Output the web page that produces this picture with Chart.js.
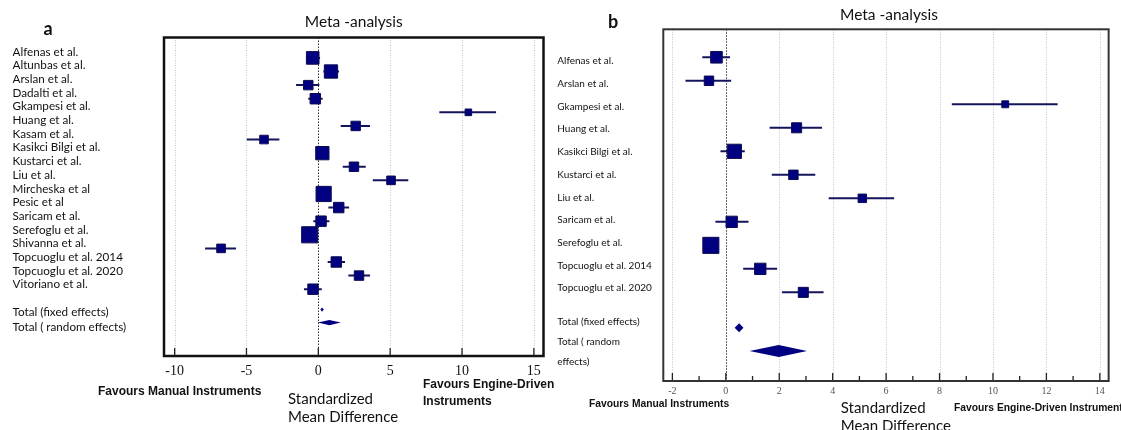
<!DOCTYPE html>
<html>
<head>
<meta charset="utf-8">
<script src="https://cdn.jsdelivr.net/npm/chart.js@4.4.1/dist/chart.umd.min.js"></script>
<style>
  html, body { margin: 0; padding: 0; background: #fff; }
  #wrap { position: relative; width: 1121px; height: 430px; overflow: hidden; background: #fff; }
  #chartA { position: absolute; left: 0; top: 0; }
  #chartB { position: absolute; left: 550px; top: 0; }
</style>
</head>
<body>
<div id="wrap">
  <canvas id="chartA" width="600" height="430"></canvas>
  <canvas id="chartB" width="571" height="430"></canvas>
</div>
<script>
// Panel a - all studies
const studiesA = ['Alfenas et al.', 'Altunbas et al.', 'Arslan et al.', 'Dadalti et al.', 'Gkampesi et al.',
    'Huang et al.', 'Kasam et al.', 'Kasikci Bilgi et al.', 'Kustarci et al.', 'Liu et al.', 'Mircheska et al',
    'Pesic et al', 'Saricam et al.', 'Serefoglu et al.', 'Shivanna et al.', 'Topcuoglu et al. 2014',
    'Topcuoglu et al. 2020', 'Vitoriano et al.'];
const smdA = [-0.39, 0.88, -0.70, -0.21, 10.44, 2.60, -3.78, 0.28, 2.48, 5.06, 0.37, 1.42, 0.19, -0.60, -6.77, 1.25, 2.83, -0.37];
const lowA = [-0.86, 0.35, -1.55, -0.70, 8.42, 1.56, -4.98, -0.05, 1.70, 3.79, 0.05, 0.70, -0.35, -0.90, -7.88, 0.65, 2.09, -1.00];
const highA = [0.12, 1.44, 0.07, 0.30, 12.37, 3.60, -2.71, 0.60, 3.30, 6.26, 0.70, 2.14, 0.77, -0.30, -5.73, 1.86, 3.60, 0.24];
const weightA = [7.3, 8.1, 4.1, 5.0, 2.0, 4.1, 3.4, 8.1, 4.1, 3.4, 10.6, 5.0, 5.0, 12.0, 3.4, 5.0, 4.1, 5.0];
const totalLabelsA = ['Total (fixed effects)', 'Total ( random effects)'];
const totalSmdA = [0.26, 0.77];
const totalLowA = [0.14, -0.04];
const totalHighA = [0.38, 1.56];
const ticksA = [-10, -5, 0, 5, 10, 15];

// Panel b - subgroup
const studiesB = ['Alfenas et al.', 'Arslan et al.', 'Gkampesi et al.', 'Huang et al.', 'Kasikci Bilgi et al.',
    'Kustarci et al.', 'Liu et al.', 'Saricam et al.', 'Serefoglu et al.', 'Topcuoglu et al. 2014', 'Topcuoglu et al. 2020'];
const smdB = [-0.35, -0.63, 10.46, 2.65, 0.32, 2.53, 5.11, 0.22, -0.56, 1.29, 2.90];
const lowB = [-0.88, -1.51, 8.46, 1.64, -0.20, 1.72, 3.85, -0.39, -0.85, 0.65, 2.10];
const highB = [0.16, 0.20, 12.42, 3.60, 0.71, 3.35, 6.30, 0.85, -0.27, 1.92, 3.66];
const weightB = [10.0, 6.6, 3.5, 7.5, 14.9, 6.6, 5.3, 9.5, 19.1, 9.5, 7.5];
const totalLabelsB = ['Total (fixed effects)', ['Total ( random', 'effects)']];
const totalSmdB = [0.50, 1.98];
const totalLowB = [0.33, 0.89];
const totalHighB = [0.66, 3.04];
const ticksB = [-2, 0, 2, 4, 6, 8, 10, 12, 14];
const minorTicksB = [-1, 1, 3, 5, 7, 9, 11, 13];

const NAVY = '#000080';
const LINE_NAVY = '#14145e';

function buildPanel(canvasId, d, look) {
    const labelRows = d.studies.map((s, i) => i).concat(look.totalLabelRows);
    const labels = d.studies.concat(d.totalLabels);
    const H = 430;
    const W = look.canvasWidth;
    const area = look.area;

    // squares first so they sit on top of the CI lines
    const datasets = [{
        label: 'smd',
        data: d.smd.map((v, i) => ({ x: v, y: i })),
        yAxisID: 'ym',
        pointStyle: 'rect',
        pointRadius: d.weight.map(w => look.squareScale * Math.sqrt(w)),
        backgroundColor: NAVY,
        borderColor: '#0c0c50',
        borderWidth: 1
    }];
    d.smd.forEach((v, i) => {
        datasets.push({
            label: 'ci' + i,
            data: [{ x: d.low[i], y: i }, { x: d.high[i], y: i }],
            yAxisID: 'ym',
            showLine: true,
            borderColor: LINE_NAVY,
            borderWidth: look.ciWidth,
            pointRadius: 0
        });
    });

    const decor = {
        id: 'forestDecor',
        beforeDatasetsDraw(chart) {
            const ctx = chart.ctx;
            const x = chart.scales.x;
            const ca = chart.chartArea;
            ctx.save();
            ctx.lineWidth = 1;
            d.ticks.forEach(t => {
                const px = Math.round(x.getPixelForValue(t)) + 0.5;
                ctx.strokeStyle = t === 0 ? '#333' : '#c4c4c4';
                ctx.setLineDash(t === 0 ? [1.5, 1.5] : [1, 1.5]);
                ctx.beginPath();
                ctx.moveTo(px, ca.top);
                ctx.lineTo(px, ca.bottom);
                ctx.stroke();
            });
            ctx.restore();
        },
        afterDatasetsDraw(chart) {
            const ctx = chart.ctx;
            const x = chart.scales.x;
            const ym = chart.scales.ym;
            const ca = chart.chartArea;
            ctx.save();
            // pooled estimates as diamonds
            ctx.fillStyle = NAVY;
            d.totalSmd.forEach((v, i) => {
                const yc = ym.getPixelForValue(look.totalMarkRows[i]);
                const h = look.diamondHalf[i];
                ctx.beginPath();
                ctx.moveTo(x.getPixelForValue(d.totalLow[i]), yc);
                ctx.lineTo(x.getPixelForValue(v), yc - h);
                ctx.lineTo(x.getPixelForValue(d.totalHigh[i]), yc);
                ctx.lineTo(x.getPixelForValue(v), yc + h);
                ctx.closePath();
                ctx.fill();
            });
            // inward tick marks
            ctx.strokeStyle = '#222';
            ctx.lineWidth = 1.3;
            d.ticks.forEach(t => {
                const px = x.getPixelForValue(t);
                ctx.beginPath();
                ctx.moveTo(px, ca.bottom);
                ctx.lineTo(px, ca.bottom - 8);
                ctx.stroke();
            });
            (d.minorTicks || []).forEach(t => {
                const px = x.getPixelForValue(t);
                ctx.beginPath();
                ctx.moveTo(px, ca.bottom);
                ctx.lineTo(px, ca.bottom - 5);
                ctx.stroke();
            });
            // frame
            ctx.strokeStyle = look.frameColor;
            ctx.lineWidth = look.frameWidth;
            ctx.strokeRect(ca.left, ca.top, ca.right - ca.left, ca.bottom - ca.top);
            // texts
            ctx.fillStyle = '#111';
            ctx.textBaseline = 'middle';
            ctx.textAlign = 'center';
            ctx.font = 'bold 18px Lato';
            ctx.fillText(look.letter, look.letterPos[0], look.letterPos[1]);
            ctx.font = '15.5px Lato';
            ctx.fillText('Meta -analysis', (ca.left + ca.right) / 2 + look.titleShift, look.titleY);
            ctx.textAlign = 'left';
            ctx.font = '15px Lato';
            ctx.fillText('Standardized', look.smdPos[0], look.smdPos[1]);
            ctx.fillText('Mean Difference', look.smdPos[0], look.smdPos[1] + 18.5);
            ctx.font = 'bold ' + look.favFont + 'px "Liberation Sans"';
            ctx.fillText('Favours Manual Instruments', look.favManual[0], look.favManual[1]);
            look.favEngine.lines.forEach((t, i) => {
                ctx.fillText(t, look.favEngine.x, look.favEngine.y + i * 16.7);
            });
            ctx.restore();
        }
    };

    return new Chart(document.getElementById(canvasId), {
        type: 'scatter',
        data: { datasets },
        plugins: [decor],
        options: {
            responsive: false,
            animation: false,
            events: [],
            layout: { padding: { left: look.labelX, top: area.top, right: W - area.right, bottom: 0 } },
            plugins: { legend: { display: false }, tooltip: { enabled: false }, title: { display: false } },
            scales: {
                x: {
                    type: 'linear',
                    position: 'bottom',
                    min: look.xMin,
                    max: look.xMax,
                    afterBuildTicks: s => { s.ticks = d.ticks.map(v => ({ value: v })); },
                    afterFit: s => { s.height = H - area.bottom; },
                    grid: { display: false, drawTicks: false },
                    border: { display: false },
                    ticks: {
                        autoSkip: false,
                        maxRotation: 0,
                        padding: look.xTickPad,
                        color: look.xTickColor,
                        font: { family: '"Liberation Serif"', size: look.xTickSize }
                    }
                },
                y: {
                    type: 'linear',
                    position: 'left',
                    reverse: true,
                    min: look.labelMin,
                    max: look.labelMax,
                    afterBuildTicks: s => { s.ticks = labelRows.map(v => ({ value: v })); },
                    afterFit: s => { s.width = area.left - look.labelX; },
                    grid: { display: false, drawTicks: false },
                    border: { display: false },
                    ticks: {
                        autoSkip: false,
                        crossAlign: 'far',
                        color: '#111',
                        font: { family: 'Lato', size: look.labelSize, lineHeight: look.labelLineHeight },
                        callback: (v, i) => labels[i]
                    }
                },
                ym: {
                    type: 'linear',
                    display: false,
                    reverse: true,
                    min: look.markMin,
                    max: look.markMax
                }
            }
        }
    });
}

buildPanel('chartA', {
    studies: studiesA, smd: smdA, low: lowA, high: highA, weight: weightA,
    totalLabels: totalLabelsA, totalSmd: totalSmdA, totalLow: totalLowA, totalHigh: totalHighA,
    ticks: ticksA
}, {
    canvasWidth: 600,
    area: { left: 164, top: 37.5, right: 543.5, bottom: 356 },
    labelX: 12.5,
    xMin: -10.74, xMax: 15.67,
    labelMin: -1.05, labelMax: 22.22,
    markMin: -1.5, markMax: 21.91,
    totalLabelRows: [19, 20.15],
    totalMarkRows: [18.5, 19.45],
    diamondHalf: [2.2, 2.6],
    squareScale: 3.3,
    ciWidth: 2,
    frameColor: '#111', frameWidth: 2.5,
    xTickPad: 7, xTickSize: 14, xTickColor: '#111',
    labelSize: 11.7, labelLineHeight: 1.2,
    letter: 'a', letterPos: [48, 29],
    titleY: 22, titleShift: 0,
    smdPos: [288, 399],
    favFont: 12,
    favManual: [98, 392],
    favEngine: { x: 423, y: 385, lines: ['Favours Engine-Driven', 'Instruments'] }
});

buildPanel('chartB', {
    studies: studiesB, smd: smdB, low: lowB, high: highB, weight: weightB,
    totalLabels: totalLabelsB, totalSmd: totalSmdB, totalLow: totalLowB, totalHigh: totalHighB,
    ticks: ticksB, minorTicks: minorTicksB
}, {
    canvasWidth: 571,
    area: { left: 113.3, top: 29.3, right: 570, bottom: 381 },
    labelX: 7.3,
    xMin: -2.34, xMax: 14.33,
    labelMin: -1.39, labelMax: 14.08,
    markMin: -1.19, markMax: 13.77,
    totalLabelRows: [11.47, 12.8],
    totalMarkRows: [11.5, 12.49],
    diamondHalf: [4.5, 6],
    squareScale: 2.6,
    ciWidth: 2,
    frameColor: '#333', frameWidth: 2,
    xTickPad: 4, xTickSize: 10, xTickColor: '#555',
    labelSize: 10, labelLineHeight: 2,
    letter: 'b', letterPos: [63, 22],
    titleY: 15, titleShift: 3,
    smdPos: [290.7, 408],
    favFont: 10.3,
    favManual: [39, 404],
    favEngine: { x: 404, y: 408, lines: ['Favours Engine-Driven Instruments'] }
});
</script>
</body>
</html>
